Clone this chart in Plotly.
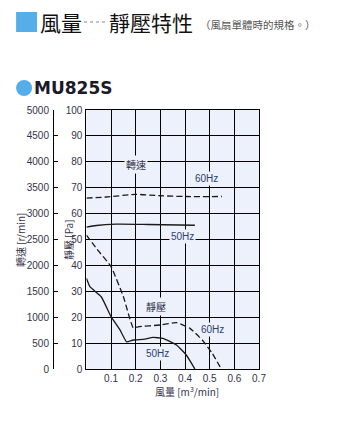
import plotly.graph_objects as go

# ---------------- data ----------------
flow_rpm60 = [0, 0.08, 0.2, 0.3, 0.4, 0.55]
rpm60 = [3300, 3320, 3370, 3345, 3330, 3330]
flow_rpm50 = [0, 0.04, 0.12, 0.25, 0.44]
rpm50 = [2740, 2770, 2795, 2790, 2775]

flow_p60 = [0, 0.04, 0.10, 0.15, 0.19, 0.21, 0.30, 0.365, 0.42, 0.47, 0.51, 0.547]
p60 = [51.7, 46.6, 39.5, 27.9, 15.9, 16.3, 17.0, 17.9, 15.7, 11.2, 6.1, 0]
flow_p50 = [0, 0.014, 0.06, 0.10, 0.136, 0.163, 0.19, 0.237, 0.27, 0.31, 0.365, 0.405, 0.44]
p50 = [35.0, 31.8, 27.9, 20.2, 15.1, 10.5, 11.2, 11.5, 12.2, 11.8, 9.3, 5.4, 0]

x_ticks = [0.1, 0.2, 0.3, 0.4, 0.5, 0.6, 0.7]
x_ticklabels = ["0.1", "0.2", "0.3", "0.4", "0.5", "0.6", "0.7"]

# ---------------- layout geometry ----------------
W, H = 356, 426
L, R, T, B = 53, 259.5, 110, 369
PX0 = 86.5  # x pixel of flow = 0


def px(x):
    return (x - L) / (R - L)


def py(y):
    return (B - y) / (B - T)


NUM_FONT = "Liberation Sans, Arial"
CJK_FONT = "Noto Sans CJK TC, Noto Sans CJK SC, sans-serif"
TXT = "#33334a"
HZ = "#2d3f6e"
BG = "#ecf1fb"
BLUE = "#55aee8"

fig = go.Figure()
line_c = "#1a1a1a"
fig.add_trace(go.Scatter(x=flow_rpm60, y=rpm60, yaxis="y2", mode="lines", line=dict(color=line_c, width=1.3, dash="6px,3px", shape="spline", smoothing=0.6), showlegend=False))
fig.add_trace(go.Scatter(x=flow_rpm50, y=rpm50, yaxis="y2", mode="lines", line=dict(color=line_c, width=1.3, shape="spline", smoothing=0.6), showlegend=False))
fig.add_trace(go.Scatter(x=flow_p60, y=p60, mode="lines", line=dict(color=line_c, width=1.3, dash="6px,3px", shape="spline", smoothing=0.4), showlegend=False))
fig.add_trace(go.Scatter(x=flow_p50, y=p50, mode="lines", line=dict(color=line_c, width=1.3, shape="spline", smoothing=0.4), showlegend=False))

annotations = []


def ann(x, y, text, color=TXT, size=11, font=NUM_FONT, xref="x", yref="y", bg=BG, xanchor="center", **kw):
    d = dict(x=x, y=y, xref=xref, yref=yref, text=text, showarrow=False,
             xanchor=xanchor, yanchor="middle",
             font=dict(family=font, size=size, color=color))
    if bg:
        d["bgcolor"] = bg
    d.update(kw)
    annotations.append(d)


ann(0.2, 78.8, "轉速", font=CJK_FONT, size=10)
ann(0.487, 73.6, "60Hz", color=HZ, size=10)
ann(0.39, 51.1, "50Hz", color=HZ, size=10)
ann(0.281, 24.3, "靜壓", font=CJK_FONT, size=10)
ann(0.513, 15.1, "60Hz", color=HZ, size=10)
ann(0.29, 6.1, "50Hz", color=HZ, size=10)

# axis titles
ann(px(20), py(240), "轉速 [r/min]", font=CJK_FONT, size=10, xref="paper", yref="paper", bg=None, textangle=-90)
ann(px(68), py(240), "靜壓 [Pa]", font=CJK_FONT, size=10, xref="paper", yref="paper", bg=None, textangle=-90)
ann(px(187), py(391), "風量 [m<sup>3</sup>/min]", font=CJK_FONT, size=10, xref="paper", yref="paper", bg=None)

# header
ann(px(38), py(22), "風量", font=CJK_FONT, size=21, color="#111", xref="paper", yref="paper", bg=None, xanchor="left")
ann(px(107), py(22), "靜壓特性", font=CJK_FONT, size=21, color="#111", xref="paper", yref="paper", bg=None, xanchor="left")
ann(px(198), py(24), "（風扇單體時的規格。）", font=CJK_FONT, size=10.5, color="#555", xref="paper", yref="paper", bg=None, xanchor="left")
ann(px(32), py(88), "<b>MU825S</b>", font="DejaVu Sans, Liberation Sans", size=17, color="#1a1a2a", xref="paper", yref="paper", bg=None, xanchor="left")

shapes = [
    dict(type="rect", xref="paper", yref="paper", x0=px(16), x1=px(37), y0=py(32), y1=py(12), fillcolor=BLUE, line=dict(width=0)),
    dict(type="line", xref="paper", yref="paper", x0=px(84), x1=px(107), y0=py(22), y1=py(22), line=dict(color="#888", width=1, dash="dot")),
    dict(type="circle", xref="paper", yref="paper", x0=px(16), x1=px(32), y0=py(96), y1=py(80), fillcolor=BLUE, line=dict(width=0)),
]

fig.update_layout(
    width=W, height=H,
    margin=dict(l=L, r=W - R, t=T, b=H - B, pad=0),
    paper_bgcolor="white", plot_bgcolor=BG,
    xaxis=dict(domain=[px(PX0), 1], range=[0, 0.7], tickvals=x_ticks, ticktext=x_ticklabels,
               showgrid=True, gridcolor="black", gridwidth=1, showline=True, linecolor="black", linewidth=1,
               mirror=True, ticks="", zeroline=False, tickfont=dict(family=NUM_FONT, size=10, color=TXT)),
    yaxis=dict(range=[0, 100], dtick=10, showgrid=True, gridcolor="black", gridwidth=1, showline=True,
               linecolor="black", linewidth=1, mirror=True, ticks="", zeroline=False,
               tickfont=dict(family=NUM_FONT, size=10, color=TXT), ticklabelstandoff=1),
    yaxis2=dict(range=[0, 5000], dtick=500, overlaying="y", anchor="free", position=0, side="left",
                showgrid=False, showline=True, linecolor="black", linewidth=1, ticks="inside", ticklen=4,
                tickcolor="black", zeroline=False, tickfont=dict(family=NUM_FONT, size=10, color=TXT),
                ticklabelstandoff=2),
    annotations=annotations, shapes=shapes,
)

fig.write_html("out.html")
